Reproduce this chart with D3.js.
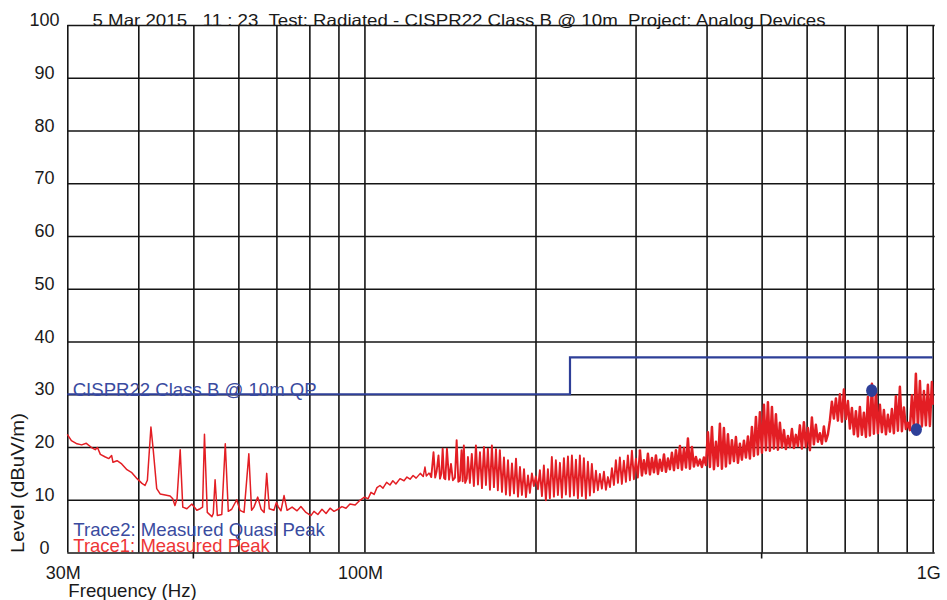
<!DOCTYPE html>
<html>
<head>
<meta charset="utf-8">
<script src="https://cdn.jsdelivr.net/npm/d3@7"></script>
<style>
  body { margin: 0; background: #fff; }
  text { font-family: "Liberation Sans", Arial, sans-serif; }
</style>
</head>
<body>
<svg id="chart" width="947" height="600"></svg>
<script>
// grid / tick values (frequency in MHz, level in dBuV/m)
const freqGrid = [30, 40, 50, 60, 70, 80, 90, 100, 200, 300, 400, 500, 600, 700, 800, 900, 1000];
const freqTickValues = [30, 100, 1000];
const freqTickLabels = ['30M', '100M', '1G'];
const longTickFreqs = [50, 500];
const levelTicks = [0, 10, 20, 30, 40, 50, 60, 70, 80, 90, 100];

// CISPR22 class B @ 10m QP limit
const limitFreqs = [30, 230, 1000];
const limitLevels = [30, 37, 37];

// Trace2: quasi peak points
const qpFreqs = [781, 936];
const qpLevels = [30.7, 23.3];

// Trace1: measured peak [MHz, dBuV/m]
const peakTrace = [
  [30.0, 22.4], [30.5, 21.2], [31.2, 20.6], [31.8, 20.4], [32.4, 20.7], [33.1, 19.9], [33.6, 19.5],
  [33.9, 19.9], [34.3, 18.6], [35.0, 18.1], [35.5, 17.8], [35.9, 18.4], [36.1, 17.1], [36.7, 17.4],
  [37.4, 16.8], [38.2, 15.7], [38.9, 15.2], [39.8, 14.0], [40.6, 13.1], [41.1, 12.7], [41.5, 13.7],
  [42.1, 23.8], [42.5, 19.4], [43.1, 12.1], [43.7, 11.1], [44.6, 10.9], [45.5, 10.7], [46.0, 10.2],
  [46.4, 8.9], [46.8, 10.2], [47.4, 19.5], [47.9, 8.6], [48.7, 8.3], [49.7, 9.2], [50.7, 8.0],
  [51.4, 8.3], [51.9, 8.6], [52.3, 22.4], [52.9, 7.6], [53.9, 6.8], [54.2, 7.4], [54.6, 13.8],
  [55.1, 7.0], [56.1, 7.2], [56.9, 20.6], [57.6, 7.8], [58.4, 8.2], [59.6, 10.0], [60.4, 8.0],
  [61.4, 7.6], [62.6, 18.7], [63.3, 8.0], [63.9, 8.6], [64.9, 10.5], [65.8, 8.2], [66.6, 7.6],
  [67.3, 15.0], [68.0, 8.3], [69.3, 8.0], [70.0, 9.5], [70.5, 8.7], [71.3, 7.9], [72.2, 10.8],
  [73.1, 8.0], [74.6, 8.6], [76.1, 7.9], [77.3, 8.7], [78.9, 7.6], [80.5, 7.0], [81.5, 7.8],
  [82.8, 7.2], [84.2, 8.2], [85.6, 7.4], [87.0, 8.4], [88.4, 7.8], [89.8, 8.2], [91.3, 8.7],
  [92.8, 8.4], [94.3, 9.2], [96.3, 9.0], [98.2, 9.9], [100.0, 10.5], [101.5, 10.2], [102.7, 11.4],
  [104.0, 11.0], [105.2, 12.3], [106.5, 12.7], [107.8, 12.2], [109.4, 13.3], [110.9, 12.8],
  [112.2, 13.6], [113.6, 13.0], [115.5, 14.0], [117.4, 13.6], [118.8, 14.3], [120.3, 13.9],
  [121.8, 14.6], [123.3, 14.1], [125.4, 15.0], [126.9, 14.4], [127.8, 16.2], [128.5, 14.5],
  [130.1, 15.1], [131.1, 14.3], [132.3, 19.0], [133.2, 14.2], [134.0, 15.4], [135.0, 18.4],
  [135.8, 14.0], [136.6, 15.0], [137.3, 19.7], [138.1, 14.1], [138.8, 13.9], [139.7, 19.7],
  [140.9, 13.8], [142.0, 16.8], [143.1, 13.7], [144.3, 14.2], [145.3, 21.3], [146.3, 13.4],
  [147.2, 13.6], [148.2, 19.4], [148.9, 13.5], [149.6, 20.3], [150.4, 13.2], [151.4, 14.0],
  [152.1, 18.1], [153.3, 13.2], [154.5, 18.7], [155.8, 12.6], [157.1, 20.3], [158.4, 12.9],
  [159.7, 19.0], [161.0, 12.2], [162.3, 20.0], [163.6, 12.8], [164.9, 19.7], [166.3, 11.9],
  [167.6, 20.3], [169.0, 12.4], [170.4, 19.6], [171.7, 11.8], [173.1, 19.4], [174.6, 11.5],
  [176.0, 18.0], [177.4, 11.0], [178.9, 17.5], [180.3, 10.8], [181.8, 16.9], [183.3, 11.2],
  [184.8, 17.8], [186.3, 10.6], [187.8, 16.2], [189.3, 10.9], [190.9, 15.8], [192.4, 10.5],
  [194.0, 14.6], [195.5, 11.3], [197.1, 15.0], [198.7, 12.6], [200.3, 14.4], [202.0, 12.0],
  [203.6, 15.6], [205.3, 10.7], [206.9, 16.5], [208.6, 9.9], [210.3, 15.8], [212.0, 10.3],
  [213.7, 18.1], [215.5, 10.6], [217.2, 17.5], [219.0, 10.9], [220.8, 17.0], [222.6, 10.4],
  [224.4, 17.9], [226.2, 11.0], [228.1, 18.2], [229.9, 10.6], [231.8, 18.4], [233.7, 10.8],
  [235.6, 17.6], [237.5, 10.3], [239.4, 18.4], [241.4, 10.7], [243.3, 17.9], [245.3, 10.2],
  [247.3, 17.2], [249.3, 10.8], [251.3, 16.8], [253.4, 11.4], [255.5, 15.5], [257.5, 11.8],
  [259.6, 14.9], [261.7, 12.1], [263.9, 15.3], [266.0, 11.9], [268.2, 14.3], [270.4, 12.4],
  [272.6, 16.0], [274.8, 12.8], [277.0, 17.5], [279.3, 13.2], [281.5, 18.0], [283.8, 13.0],
  [286.1, 17.4], [288.5, 13.4], [290.8, 18.4], [293.2, 13.7], [295.6, 19.3], [298.0, 13.9],
  [300.4, 17.8], [302.8, 14.2], [305.3, 19.5], [307.8, 14.6], [310.3, 17.5], [312.8, 15.0],
  [315.4, 18.7], [318.0, 14.8], [320.6, 17.9], [323.2, 15.2], [325.8, 18.4], [328.5, 14.9],
  [331.1, 17.6], [333.8, 15.5], [336.6, 18.6], [339.3, 15.3], [342.1, 17.8], [344.8, 15.8],
  [347.6, 18.9], [350.5, 15.6], [353.3, 19.4], [356.2, 16.0], [359.1, 20.2], [362.0, 15.7],
  [365.0, 19.8], [368.0, 16.1], [370.9, 21.6], [373.9, 15.9], [377.0, 20.0], [380.0, 16.3],
  [383.1, 18.1], [386.2, 16.5], [389.4, 17.6], [392.5, 16.2], [395.7, 18.0], [399.0, 16.6],
  [402.2, 22.8], [405.5, 16.2], [408.8, 23.8], [412.1, 15.8], [415.5, 21.0], [418.8, 16.4],
  [422.2, 24.4], [425.7, 15.9], [429.1, 23.6], [432.6, 16.3], [436.2, 22.4], [439.7, 16.9],
  [443.3, 21.3], [446.9, 17.3], [450.5, 21.9], [454.2, 17.0], [457.9, 20.6], [461.6, 17.6],
  [465.4, 21.2], [469.2, 18.0], [473.0, 22.0], [476.8, 17.8], [480.7, 23.8], [484.6, 18.3],
  [488.6, 25.7], [492.5, 18.6], [496.5, 26.6], [500.6, 18.9], [504.7, 28.0], [508.8, 19.4],
  [512.9, 28.5], [517.0, 19.3], [521.3, 27.6], [525.5, 19.7], [529.8, 26.2], [534.1, 19.5],
  [538.4, 24.6], [542.8, 19.9], [547.2, 23.2], [551.7, 19.6], [556.2, 22.1], [560.7, 20.0],
  [565.3, 23.4], [569.9, 19.8], [574.5, 22.3], [579.2, 20.2], [583.8, 24.1], [588.6, 19.7],
  [593.4, 24.7], [598.2, 20.0], [603.1, 23.6], [608.0, 19.4], [612.9, 25.6], [617.9, 20.5],
  [622.9, 24.2], [628.0, 21.0], [633.1, 22.6], [638.3, 20.6], [643.5, 23.9], [648.7, 21.1],
  [654.0, 22.4], [659.3, 25.0], [664.7, 28.6], [670.1, 25.4], [675.6, 29.2], [681.0, 25.0],
  [686.6, 30.0], [692.2, 24.8], [697.8, 30.9], [703.5, 25.3], [709.2, 28.7], [715.0, 23.5],
  [720.8, 27.4], [726.7, 22.4], [732.6, 26.8], [738.5, 22.0], [744.5, 27.6], [750.6, 22.3],
  [756.7, 26.5], [762.9, 21.9], [769.1, 29.5], [775.3, 22.2], [781.7, 32.0], [788.0, 22.5],
  [794.4, 30.4], [800.9, 22.6], [807.4, 28.0], [814.0, 22.8], [820.6, 27.0], [827.3, 22.4],
  [834.0, 26.1], [840.8, 22.9], [847.6, 27.2], [854.5, 22.6], [861.5, 29.6], [868.5, 23.1],
  [875.5, 31.4], [882.7, 23.0], [889.8, 27.5], [897.1, 23.4], [904.4, 24.6], [911.7, 23.2],
  [919.1, 29.8], [926.6, 23.6], [934.1, 33.9], [941.8, 23.8], [949.5, 32.5], [957.2, 23.9],
  [965.0, 30.6], [972.8, 24.1], [980.7, 31.8], [988.7, 24.0], [996.7, 32.3], [1000.0, 28.0]
];

// stroke gets heavier where the sweep is dense
const traceBands = [
  { from: 30, to: 130.1, width: 1.5 },
  { from: 130.1, to: 305.3, width: 1.9 },
  { from: 305.3, to: 1000, width: 2.5 }
];

const svg = d3.select('#chart');

//scales: log frequency, linear level
const x = d3.scaleLog().domain([30, 1000]).range([67.3, 932.7]);
const y = d3.scaleLinear().domain([0, 100]).range([552.5, 25]);
const plotH = y(0) - y(100);
const plotW = x(1000) - x(30);

const red = '#e31e24';
const blue = '#2e3f98';

//grid lines through the axis generators
const gx = svg.append('g')
  .attr('transform', `translate(0,${y(0)})`)
  .call(d3.axisBottom(x).tickValues(freqGrid).tickSize(-plotH).tickFormat(''));
gx.select('.domain').remove();
gx.selectAll('line').attr('stroke', '#151515').attr('stroke-width', 1.6);

// the two longer ticks under the bottom line
svg.append('g')
  .attr('transform', `translate(0,${y(0)})`)
  .selectAll('line')
  .data(longTickFreqs)
  .enter()
  .append('line')
  .attr('x1', d => x(d)).attr('x2', d => x(d))
  .attr('y1', 0).attr('y2', 6)
  .attr('stroke', '#151515').attr('stroke-width', 1.6);

const gy = svg.append('g')
  .attr('transform', `translate(${x(30)},0)`)
  .call(d3.axisLeft(y).tickValues(levelTicks).tickSize(-plotW - 2).tickFormat(''));
gy.select('.domain').remove();
gy.selectAll('line').attr('stroke', '#151515').attr('stroke-width', 1.6);

//level labels, centred left of the plot, baseline on the grid line
svg.append('g')
  .selectAll('text')
  .data(levelTicks)
  .enter()
  .append('text')
  .attr('x', 44.5)
  .attr('y', d => y(d) + 1)
  .attr('text-anchor', 'middle')
  .attr('font-size', '18px')
  .attr('fill', '#1a1a1a')
  .text(d => d);

//frequency labels
svg.append('g')
  .selectAll('text')
  .data(freqTickValues)
  .enter()
  .append('text')
  .attr('x', d => x(d) - 4)
  .attr('y', 578.5)
  .attr('text-anchor', 'middle')
  .attr('font-size', '18px')
  .attr('fill', '#1a1a1a')
  .text((d, i) => freqTickLabels[i]);

//limit line
const limitLine = d3.line()
  .x(d => x(d[0]))
  .y(d => y(d[1]))
  .curve(d3.curveStepAfter);

svg.append('path')
  .datum(limitFreqs.map((f, i) => [f, limitLevels[i]]))
  .attr('d', limitLine)
  .attr('fill', 'none')
  .attr('stroke', blue)
  .attr('stroke-width', 2.2);

//peak trace
const traceLine = d3.line()
  .x(d => x(d[0]))
  .y(d => y(d[1]));

svg.append('g')
  .selectAll('path')
  .data(traceBands)
  .enter()
  .append('path')
  .attr('d', b => traceLine(peakTrace.filter(d => d[0] >= b.from && d[0] <= b.to)))
  .attr('fill', 'none')
  .attr('stroke', red)
  .attr('stroke-width', b => b.width)
  .attr('stroke-linejoin', 'round');

//quasi peak dots
svg.append('g')
  .selectAll('ellipse')
  .data(qpFreqs)
  .enter()
  .append('ellipse')
  .attr('cx', d => x(d))
  .attr('cy', (d, i) => y(qpLevels[i]))
  .attr('rx', 5.6)
  .attr('ry', 6.4)
  .attr('fill', blue);

//texts
function label(txt, xx, yy, size, fill, len) {
  return svg.append('text')
    .attr('x', xx).attr('y', yy)
    .attr('font-size', size)
    .attr('fill', fill)
    .attr('textLength', len)
    .attr('lengthAdjust', 'spacingAndGlyphs')
    .style('white-space', 'pre')
    .text(txt);
}

label('5 Mar 2015   11 : 23  Test: Radiated - CISPR22 Class B @ 10m  Project: Analog Devices', 92.5, 26, '16.5px', '#1a1a1a', 733);
label('CISPR22 Class B @ 10m QP', 72.7, 396, '18.5px', '#3a4ba0', 244);
label('Trace2: Measured Quasi Peak', 73.3, 535.5, '18.5px', '#3a4ba0', 251.5);
label('Trace1: Measured Peak', 73.3, 552, '18.5px', '#ee3535', 196.5);
label('Frequency (Hz)', 68.3, 596.5, '18.5px', '#1a1a1a', 128.5);

svg.append('text')
  .attr('transform', 'translate(23.5,553) rotate(-90)')
  .attr('font-size', '18.5px')
  .attr('fill', '#1a1a1a')
  .attr('textLength', 140)
  .attr('lengthAdjust', 'spacingAndGlyphs')
  .text('Level (dBuV/m)');
</script>
</body>
</html>
